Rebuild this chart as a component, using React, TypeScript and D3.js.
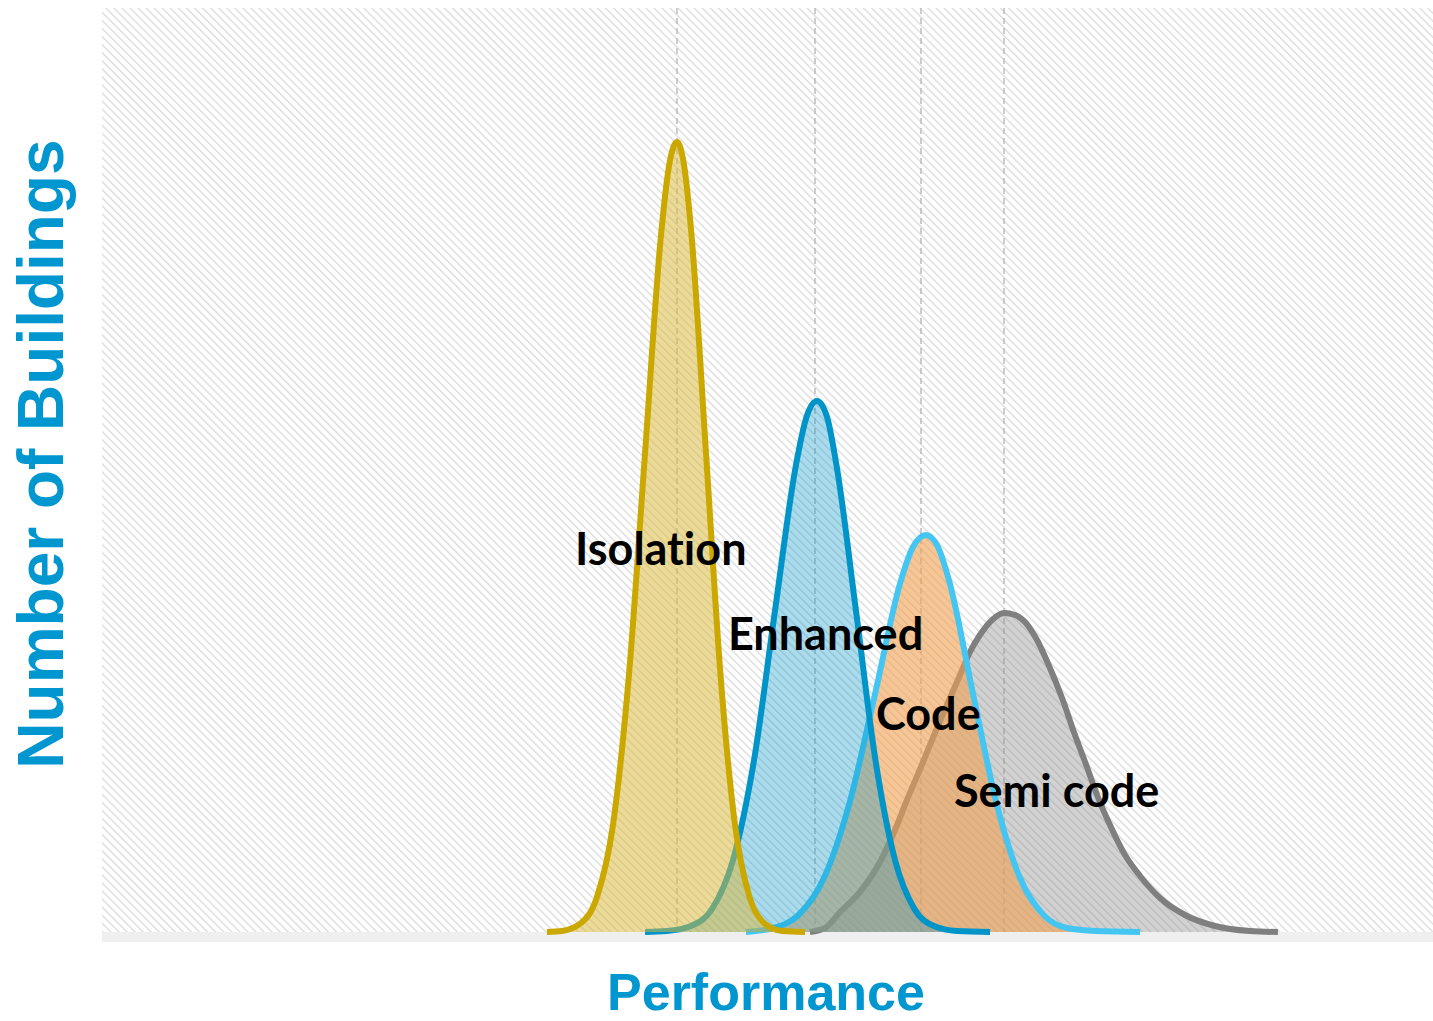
import React from "react";
import * as d3 from "d3";

// ---- Data (performance 0–100, relative number of buildings 0–100) ----
const performanceDomain: [number, number] = [0, 100];
const countDomain: [number, number] = [0, 100];

const isolationPts: [number, number][] = [
  [33.43, 0], [34.56, 0.11], [35.99, 0.97], [37.19, 3.79], [38.39, 11.58],
  [39.59, 27.81], [40.8, 51.84], [42.0, 75.43], [42.6, 82.9], [43.2, 85.5],
  [43.74, 82.9], [44.29, 75.43], [45.38, 51.84], [46.47, 27.81], [47.56, 11.58],
  [48.65, 3.79], [49.74, 0.97], [51.09, 0.11], [52.82, 0],
];

const enhancedPts: [number, number][] = [
  [40.8, 0], [42.45, 0.11], [44.25, 0.65], [45.83, 2.49], [47.41, 7.79],
  [48.99, 18.61], [50.56, 34.74], [52.14, 50.54], [52.93, 55.74], [53.72, 57.47],
  [54.47, 55.74], [55.18, 50.54], [56.65, 34.74], [58.11, 18.61], [59.58, 7.79],
  [61.04, 2.49], [62.51, 0.65], [64.24, 0.11], [66.72, 0],
];

const codePts: [number, number][] = [
  [48.38, 0], [50.41, 0.43], [52.33, 1.84], [54.24, 5.84], [56.16, 13.96],
  [58.08, 25.76], [59.99, 37.88], [60.93, 41.67], [61.91, 42.97], [62.81, 41.67],
  [63.67, 37.88], [65.44, 25.76], [67.2, 13.96], [68.97, 5.84], [70.74, 1.84],
  [72.5, 0.43], [74.68, 0.11], [77.99, 0],
];

const semiCodePts: [number, number][] = [
  [53.19, 0], [54.32, 0.43], [55.45, 2.16], [56.95, 4.33], [58.45, 7.58],
  [59.58, 11.04], [60.48, 14.29], [61.53, 17.86], [62.58, 21.54], [63.64, 25.11],
  [64.46, 27.81], [65.21, 30.3], [65.96, 32.14], [66.87, 33.77], [67.77, 34.52],
  [68.6, 34.31], [69.35, 33.55], [70.25, 31.6], [71.22, 28.57], [72.13, 25.32],
  [73.1, 21.32], [74.0, 17.86], [74.76, 14.83], [75.73, 11.58], [76.86, 8.33],
  [77.99, 6.06], [79.49, 3.68], [81.37, 1.84], [83.62, 0.65], [86.25, 0.11],
  [88.35, 0],
];

const seriesNames = ["Semi code", "Code", "Enhanced", "Isolation"];
const seriesPoints = [semiCodePts, codePts, enhancedPts, isolationPts];
const peakMarkers = [43.2, 53.57, 61.53, 67.77];

const labelNames = ["Isolation", "Enhanced", "Code", "Semi code"];
const labelAnchors: [number, number][] = [
  [35.54, 39.72], [47.03, 30.52], [58.15, 21.86], [64.01, 13.53],
];

const xTitle = "Performance";
const yTitle = "Number of Buildings";

// ---- Styles ----
const seriesStyle: Record<string, { stroke: string; fill: string; opacity: number }> = {
  "Semi code": { stroke: "#7f7f7f", fill: "#8a8a8a", opacity: 0.38 },
  Code: { stroke: "#45c6f2", fill: "#f0a050", opacity: 0.6 },
  Enhanced: { stroke: "#0094c9", fill: "#0096cc", opacity: 0.33 },
  Isolation: { stroke: "#cba800", fill: "#d9b93a", opacity: 0.52 },
};

const W = 1433;
const H = 1021;
const plot = { left: 102, right: 1433, top: 8, bottom: 932 };

export default function App() {
  const x = d3.scaleLinear().domain(performanceDomain).range([plot.left, plot.right]);
  const y = d3.scaleLinear().domain(countDomain).range([plot.bottom, plot.top]);

  const area = d3
    .area<[number, number]>()
    .x((d) => x(d[0]))
    .y0(y(0))
    .y1((d) => y(d[1]))
    .curve(d3.curveMonotoneX);
  const line = d3
    .line<[number, number]>()
    .x((d) => x(d[0]))
    .y((d) => y(d[1]))
    .curve(d3.curveMonotoneX);

  return (
    <svg
      width={W}
      height={H}
      style={{ position: "absolute", left: 0, top: 0, display: "block", background: "#fff" }}
    >
      <defs>
        <pattern
          id="hatch"
          patternUnits="userSpaceOnUse"
          width={5.7}
          height={5.7}
          patternTransform="rotate(-45)"
        >
          <rect width={5.7} height={5.7} fill="#ffffff" />
          <line x1={0.7} y1={0} x2={0.7} y2={5.7} stroke="#d9d9d9" strokeWidth={1.3} />
        </pattern>
      </defs>

      <rect
        x={plot.left}
        y={plot.top}
        width={plot.right - plot.left}
        height={plot.bottom - plot.top}
        fill="url(#hatch)"
      />
      <rect x={plot.left} y={plot.bottom} width={plot.right - plot.left} height={10} fill="#efefef" />

      {peakMarkers.map((p, i) => (
        <line
          key={"pk" + i}
          x1={x(p)}
          x2={x(p)}
          y1={plot.top}
          y2={plot.bottom}
          stroke="#bdbdbd"
          strokeWidth={1.5}
          strokeDasharray="6,4"
        />
      ))}

      {seriesNames.map((name, i) => {
        const st = seriesStyle[name];
        const pts = seriesPoints[i];
        return (
          <g key={name}>
            <path d={area(pts) || ""} fill={st.fill} fillOpacity={st.opacity} />
            <path
              d={line(pts) || ""}
              fill="none"
              stroke={st.stroke}
              strokeWidth={6}
              strokeLinejoin="round"
            />
          </g>
        );
      })}

      {labelNames.map((t, i) => (
        <text
          key={t}
          x={x(labelAnchors[i][0])}
          y={y(labelAnchors[i][1])}
          fontFamily="Lato, 'Open Sans', sans-serif"
          fontWeight={700}
          fontSize={45}
          fill="#000"
          style={{ fontVariantLigatures: "none", fontFeatureSettings: "'liga' 0, 'clig' 0" }}
        >
          {t}
        </text>
      ))}

      <text
        x={766}
        y={1010}
        textAnchor="middle"
        fontFamily="'Liberation Sans', Arial, sans-serif"
        fontWeight={700}
        fontSize={52}
        fill="#0096d0"
      >
        {xTitle}
      </text>
      <text
        transform={`translate(63, 454) rotate(-90)`}
        textAnchor="middle"
        fontFamily="'Liberation Sans', Arial, sans-serif"
        fontWeight={700}
        fontSize={64}
        fill="#0096d0"
      >
        {yTitle}
      </text>
    </svg>
  );
}
